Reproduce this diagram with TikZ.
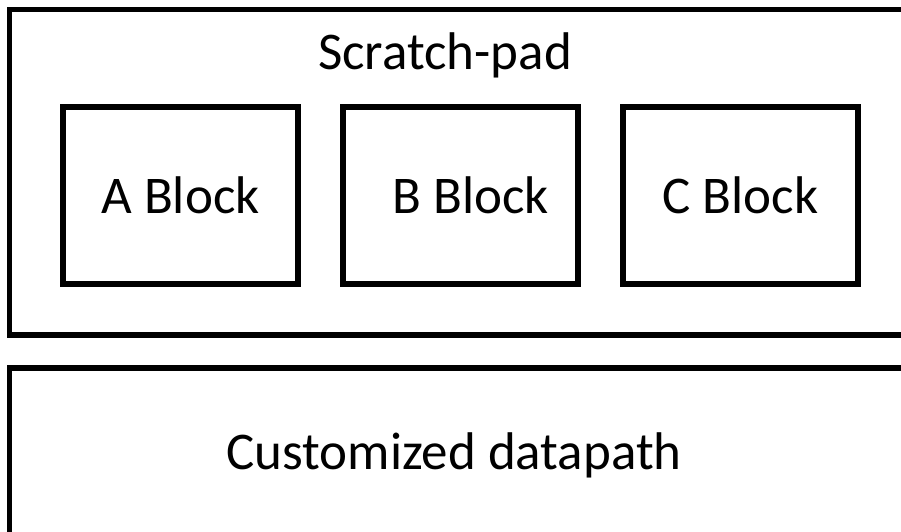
\documentclass[tikz,border=0pt]{standalone}
\usepackage{fontspec}
\setmainfont{Carlito}
\usetikzlibrary{positioning}
\tikzset{
  bloc/.style={draw, line width=5.5pt, minimum width=235pt, minimum height=177pt,
    inner sep=0pt, font=\fontsize{53}{60}\selectfont},
  cadre/.style={line width=5.5pt},
  titre/.style={font=\fontsize{53}{60}\selectfont, anchor=base}
}
\begin{document}
\begin{tikzpicture}[x=1pt,y=-1pt]
  \useasboundingbox (0,0) rectangle (901,531);
  % Le cadre du scratch-pad
  \draw[cadre] (9.5,9.5) rectangle (930,335);
  \node[titre] (pad) at (445,69) {Scratch-pad};
  % Les trois blocs
  \node[bloc] (blocA) at (180.5,195.5) {A Block};
  \node[bloc] (blocB) at (460.5,195.5) {\hspace*{20pt}B Block};
  \node[bloc] (blocC) at (740.5,195.5) {C Block};
  % Le chemin de donnees
  \draw[cadre] (9.5,368) rectangle (930,535);
  \node[titre] (chemin) at (454,469) {Customized datapath};
\end{tikzpicture}
\end{document}
